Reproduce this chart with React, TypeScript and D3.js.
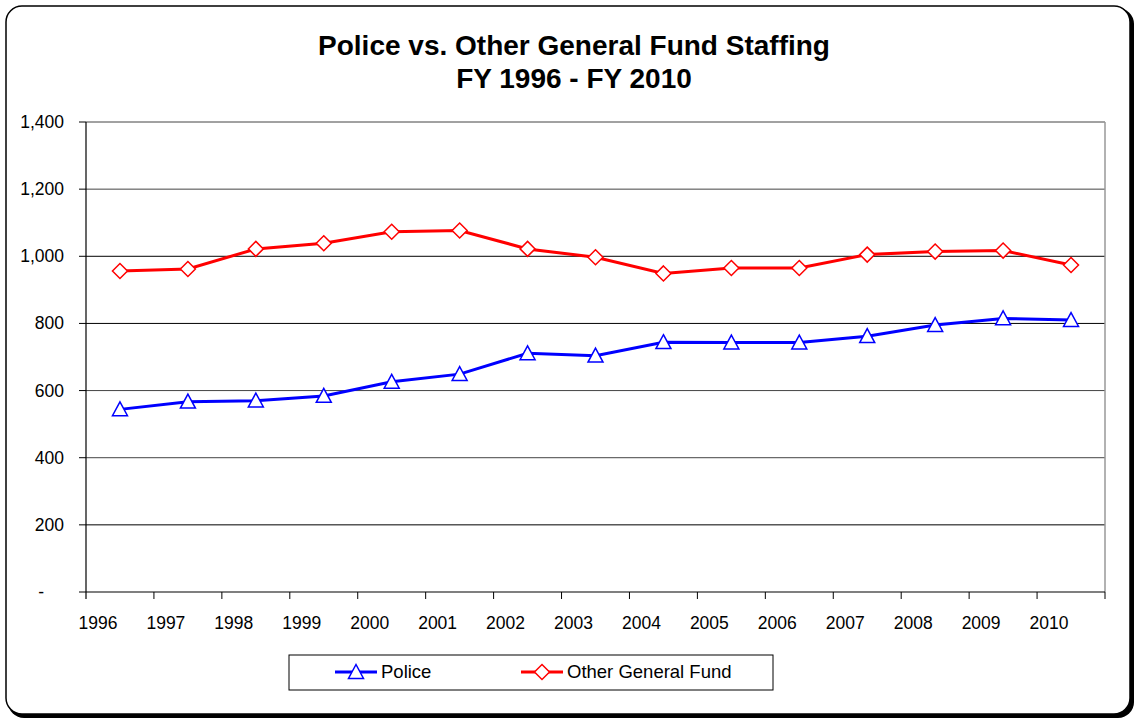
import React from "react";
import * as d3 from "d3";

const years = ["1996","1997","1998","1999","2000","2001","2002","2003","2004","2005","2006","2007","2008","2009","2010"];
const police = [544, 567, 570, 584, 626, 649, 711, 704, 744, 743, 743, 762, 795, 815, 810];
const otherFund = [956, 962, 1022, 1039, 1073, 1077, 1022, 997, 949, 965, 965, 1005, 1014, 1017, 974];
const yTicks = [0, 200, 400, 600, 800, 1000, 1200, 1400];
const titleLines = ["Police vs. Other General Fund Staffing", "FY 1996 - FY 2010"];

const FONT = "'Liberation Sans', Arial, sans-serif";

export default function App() {
  const W = 1135, H = 719;
  const left = 86, right = 1105, top = 122, bottom = 592;
  const x = d3.scaleBand<string>().domain(years).range([left, right]).padding(0);
  const y = d3.scaleLinear().domain([0, 1400]).range([bottom, top]);
  const cx = (d: string) => (x(d) as number) + x.bandwidth() / 2;
  const line = d3.line<number>().x((_, i) => cx(years[i])).y((v) => y(v));
  const fmt = d3.format(",");

  const tri = (px: number, py: number) => {
    const s = 7.5;
    return `M${px},${py - s}L${px + s},${py + s * 0.85}L${px - s},${py + s * 0.85}Z`;
  };
  const dia = (px: number, py: number) => {
    const s = 7.5;
    return `M${px},${py - s}L${px + s},${py}L${px},${py + s}L${px - s},${py}Z`;
  };

  return (
    <svg width={W} height={H} style={{ position: "absolute", left: 0, top: 0, fontFamily: FONT }}>
      <rect x={0} y={0} width={W} height={H} fill="#fff" />
      {/* shadow */}
      <rect x={8} y={8} width={1126} height={710} rx={16} fill="#000" />
      <rect x={6} y={6} width={1124} height={708} rx={16} fill="#fff" stroke="#000" strokeWidth={1.5} />
      {/* title */}
      {titleLines.map((t, i) => (
        <text key={i} x={574} y={55 + i * 33} textAnchor="middle" fontWeight="bold" fontSize={28} fill="#000">{t}</text>
      ))}
      {/* grid */}
      {yTicks.filter(t => t > 0).map((t) => (
        <line key={t} x1={left} x2={right} y1={y(t)} y2={y(t)} stroke={t === 1000 || t === 800 || t === 200 ? "#000" : "#444"} strokeWidth={1} />
      ))}
      <line x1={right} x2={right} y1={top} y2={bottom} stroke="#999" strokeWidth={1.5} />
      {/* y axis */}
      <line x1={left} x2={left} y1={top} y2={bottom + 7} stroke="#000" strokeWidth={1.2} />
      {yTicks.map((t) => (
        <g key={t}>
          <line x1={left - 7} x2={left} y1={y(t)} y2={y(t)} stroke="#000" />
          <text x={t === 0 ? 44 : 64} y={y(t) + 6} textAnchor="end" fontSize={17.5} fill="#000">{t === 0 ? "-" : fmt(t)}</text>
        </g>
      ))}
      {/* x axis */}
      <line x1={left} x2={right} y1={bottom} y2={bottom} stroke="#000" strokeWidth={1.2} />
      {years.map((yr) => (
        <line key={"t" + yr} x1={(x(yr) as number) + x.bandwidth()} x2={(x(yr) as number) + x.bandwidth()} y1={bottom} y2={bottom + 7} stroke="#000" />
      ))}
      {years.map((yr) => (
        <text key={"l" + yr} x={cx(yr) - 22} y={629} textAnchor="middle" fontSize={17.5} fill="#000">{yr}</text>
      ))}
      {/* series */}
      <path d={line(otherFund) || ""} fill="none" stroke="#ff0000" strokeWidth={3} />
      <path d={line(police) || ""} fill="none" stroke="#0000ff" strokeWidth={3} />
      {otherFund.map((v, i) => (
        <path key={"o" + i} d={dia(cx(years[i]), y(v))} fill="#fff" stroke="#ff0000" strokeWidth={1.5} />
      ))}
      {police.map((v, i) => (
        <path key={"p" + i} d={tri(cx(years[i]), y(v))} fill="#fff" stroke="#0000ff" strokeWidth={1.5} />
      ))}
      {/* legend */}
      <rect x={289} y={655} width={484} height={35} fill="#fff" stroke="#000" strokeWidth={1} />
      <line x1={335} x2={377} y1={672} y2={672} stroke="#0000ff" strokeWidth={3} />
      <path d={tri(356, 672)} fill="#fff" stroke="#0000ff" strokeWidth={1.5} />
      <text x={381} y={678} fontSize={18.5} fill="#000">Police</text>
      <line x1={521} x2={563} y1={672} y2={672} stroke="#ff0000" strokeWidth={3} />
      <path d={dia(542, 672)} fill="#fff" stroke="#ff0000" strokeWidth={1.5} />
      <text x={567} y={678} fontSize={18.5} fill="#000">Other General Fund</text>
    </svg>
  );
}
